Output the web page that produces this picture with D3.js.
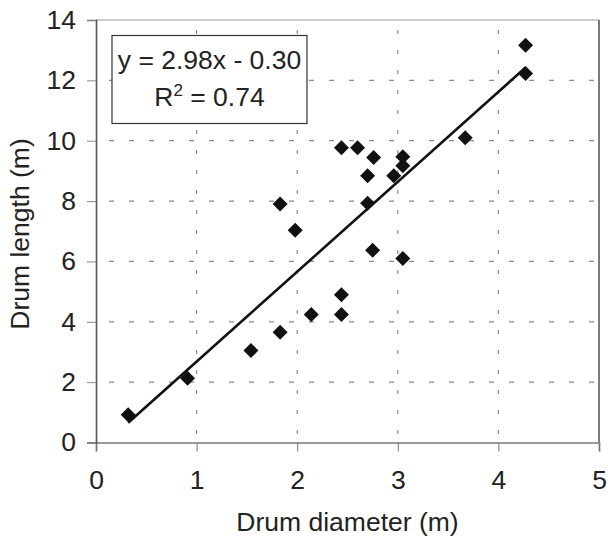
<!DOCTYPE html>
<html>
<head>
<meta charset="utf-8">
<script src="https://cdn.jsdelivr.net/npm/d3@7"></script>
<style>
  html, body { margin: 0; padding: 0; background: #fff; }
  svg text { font-family: Arial, "Liberation Sans", sans-serif; fill: #222; }
</style>
</head>
<body>
<svg id="chart" width="608" height="542"></svg>
<script>
// Drum dimensions (m)
const drumDiameter = [0.32, 0.91, 1.54, 1.83, 2.14, 2.44, 2.44, 2.75, 3.05, 1.98, 1.83,
                      2.70, 2.70, 2.96, 3.05, 3.05, 2.76, 2.44, 2.60, 3.67, 4.27, 4.27];
const drumLength   = [0.92, 2.13, 3.05, 3.65, 4.24, 4.24, 4.90, 6.37, 6.10, 7.03, 7.90,
                      7.93, 8.84, 8.84, 9.47, 9.17, 9.44, 9.77, 9.77, 10.10, 13.16, 12.23];

// Linear fit
const fitSlope = 2.98;
const fitIntercept = -0.30;
const fitR2 = 0.74;

const xTicks = [0, 1, 2, 3, 4, 5];
const yTicks = [0, 2, 4, 6, 8, 10, 12, 14];

const xTitle = "Drum diameter (m)";
const yTitle = "Drum length (m)";

const points = drumDiameter.map((d, i) => ({ x: d, y: drumLength[i] }));

const svg = d3.select("#chart");
const plotLeft = 96, plotRight = 599, plotTop = 20, plotBottom = 442.5;

const x = d3.scaleLinear().domain([0, 5]).range([plotLeft, plotRight]);
const y = d3.scaleLinear().domain([0, 14]).range([plotBottom, plotTop]);

const FS = 26.5;

// Dashed gridlines
const grid = svg.append("g");
grid.selectAll("line.h").data(yTicks.filter(t => t > 0 && t < 14)).join("line")
  .attr("x1", plotLeft).attr("x2", plotRight)
  .attr("y1", d => y(d)).attr("y2", d => y(d))
  .attr("stroke", "#8a8a8a").attr("stroke-width", 1.2)
  .attr("stroke-dasharray", "5,15").attr("stroke-dashoffset", -13);
grid.selectAll("line.v").data(xTicks.filter(t => t > 0 && t < 5)).join("line")
  .attr("y1", plotTop).attr("y2", plotBottom)
  .attr("x1", d => x(d)).attr("x2", d => x(d))
  .attr("stroke", "#8a8a8a").attr("stroke-width", 1.2)
  .attr("stroke-dasharray", "4,16").attr("stroke-dashoffset", -10);

// Plot frame
svg.append("line").attr("x1", plotLeft).attr("x2", plotRight).attr("y1", plotTop).attr("y2", plotTop)
  .attr("stroke", "#999").attr("stroke-width", 1);
svg.append("line").attr("x1", plotRight).attr("x2", plotRight).attr("y1", plotTop).attr("y2", plotBottom)
  .attr("stroke", "#222").attr("stroke-width", 1.2);

// Axes
const xAxis = svg.append("g").attr("transform", `translate(0,${plotBottom})`)
  .call(d3.axisBottom(x).tickValues(xTicks).tickFormat(d3.format("d")).tickSize(9).tickPadding(19));
const yAxis = svg.append("g").attr("transform", `translate(${plotLeft},0)`)
  .call(d3.axisLeft(y).tickValues(yTicks).tickFormat(d3.format("d")).tickSize(9).tickPadding(11));

xAxis.select(".domain").attr("stroke", "#9a9a9a").attr("stroke-width", 2);
xAxis.selectAll(".tick line").attr("stroke", "#777").attr("stroke-width", 1);
yAxis.select(".domain").attr("stroke", "#555").attr("stroke-width", 1.6);
yAxis.selectAll(".tick line").attr("stroke", "#888").attr("stroke-width", 1);
svg.selectAll(".tick text").attr("font-size", FS).attr("fill", "#222")
  .attr("font-family", "Arial, 'Liberation Sans', sans-serif");

// Trend line over the range of the data
const [xmin, xmax] = d3.extent(drumDiameter);
const line = d3.line().x(d => x(d)).y(d => y(fitSlope * d + fitIntercept));
svg.append("path").datum([xmin, xmax]).attr("d", line)
  .attr("fill", "none").attr("stroke", "#111").attr("stroke-width", 2.6);

// Diamond markers
svg.append("g").selectAll("path").data(points).join("path")
  .attr("transform", d => `translate(${x(d.x)},${y(d.y)})`)
  .attr("d", "M0,-7.5L7.5,0L0,7.5L-7.5,0Z")
  .attr("fill", "#111");

// Equation box
const box = svg.append("g");
box.append("rect").attr("x", 112).attr("y", 35.5).attr("width", 195).attr("height", 88)
  .attr("fill", "#fff").attr("stroke", "#333").attr("stroke-width", 1.2);
box.append("text").attr("x", 209.5).attr("y", 69).attr("text-anchor", "middle")
  .attr("font-size", FS)
  .text(`y = ${fitSlope.toFixed(2)}x ${fitIntercept < 0 ? "-" : "+"} ${Math.abs(fitIntercept).toFixed(2)}`);
const r2 = box.append("text").attr("x", 209.5).attr("y", 106).attr("text-anchor", "middle")
  .attr("font-size", FS);
r2.append("tspan").text("R");
r2.append("tspan").attr("font-size", 17).attr("dy", -10).text("2");
r2.append("tspan").attr("dy", 10).text(` = ${fitR2.toFixed(2)}`);

// Axis titles
svg.append("text").attr("x", (plotLeft + plotRight) / 2).attr("y", 531)
  .attr("text-anchor", "middle").attr("font-size", FS).text(xTitle);
svg.append("text").attr("transform", "translate(29,234) rotate(-90)")
  .attr("text-anchor", "middle").attr("font-size", FS).text(yTitle);
</script>
</body>
</html>
